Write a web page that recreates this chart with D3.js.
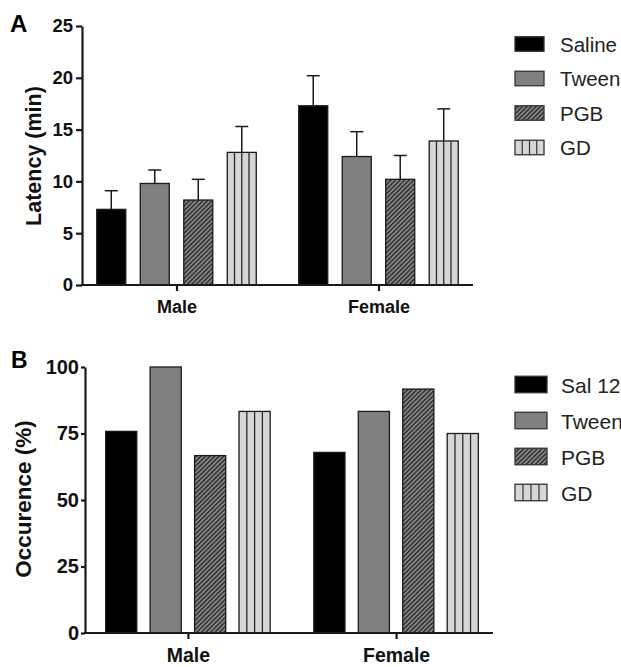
<!DOCTYPE html>
<html><head><meta charset="utf-8">
<script src="https://cdn.jsdelivr.net/npm/d3@7"></script>
<style>
body{margin:0;background:#fff}
svg{display:block;font-family:"Liberation Sans",Arial,Helvetica,sans-serif}
</style>
</head><body>
<svg id="chart" width="621" height="667"></svg>
<script>
// Groups and treatments
const groups = ["Male", "Female"];
const seriesA = ["Saline", "Tween", "PGB", "GD"];
const seriesB = ["Sal 12", "Tween", "PGB", "GD"];

// Panel A: latency (min), mean and upper error (SEM)
const latencyMale = [7.3, 9.8, 8.2, 12.8];
const latencyFemale = [17.3, 12.4, 10.2, 13.9];
const latencyErrMale = [1.8, 1.3, 2.0, 2.5];
const latencyErrFemale = [2.9, 2.4, 2.3, 3.1];

// Panel B: occurrence (%)
const occurrenceMale = [75.8, 100, 66.7, 83.3];
const occurrenceFemale = [67.9, 83.3, 91.7, 75];

const ticksA = [0, 5, 10, 15, 20, 25];
const ticksB = [0, 25, 50, 75, 100];

const svg = d3.select("#chart");
const INK = "#1a1a1a";

// Fill patterns
const defs = svg.append("defs");
const hatch = defs.append("pattern")
  .attr("id", "hatch").attr("patternUnits", "userSpaceOnUse")
  .attr("width", 3.2).attr("height", 3.2)
  .attr("patternTransform", "rotate(45)");
hatch.append("rect").attr("width", 3.2).attr("height", 3.2).attr("fill", "#858585");
hatch.append("line").attr("x1", 0.6).attr("y1", 0).attr("x2", 0.6).attr("y2", 3.2)
  .attr("stroke", "#222").attr("stroke-width", 1.3);

const fills = ["#000000", "#808080", "url(#hatch)", "#d6d6d6"];

function drawPanel(cfg) {
  const g = svg.append("g");
  const y = d3.scaleLinear().domain(cfg.domain).range([cfg.y0, cfg.y1]);
  const x = d3.scalePoint().domain(groups).range(cfg.xRange).padding(cfg.pointPad);
  const inner = d3.scaleBand().domain(cfg.series)
    .range([-cfg.clusterW / 2, cfg.clusterW / 2]).paddingInner(cfg.innerPad).paddingOuter(0);
  const bw = inner.bandwidth();

  const rows = [];
  groups.forEach((grp, gi) => {
    cfg.values[gi].forEach((v, si) => {
      rows.push({grp, si, s: cfg.series[si], v, e: cfg.errors ? cfg.errors[gi][si] : null});
    });
  });

  // Bars
  const bars = g.selectAll("g.bar").data(rows).join("g").attr("class", "bar");
  bars.append("rect")
    .attr("x", d => x(d.grp) + inner(d.s))
    .attr("y", d => y(d.v))
    .attr("width", bw)
    .attr("height", d => y(0) - y(d.v))
    .attr("fill", d => fills[d.si])
    .attr("stroke", INK).attr("stroke-width", 1.3);
  // Vertical stripes for GD
  bars.filter(d => d.si === 3).each(function(d) {
    const x0 = x(d.grp) + inner(d.s);
    d3.select(this).selectAll("line.stripe").data([1, 2, 3]).join("line")
      .attr("class", "stripe")
      .attr("x1", k => x0 + bw * k / 4).attr("x2", k => x0 + bw * k / 4)
      .attr("y1", y(d.v)).attr("y2", y(0))
      .attr("stroke", "#2a2a2a").attr("stroke-width", 1.3);
  });

  // Error bars (upper only)
  if (cfg.errors) {
    const eb = g.selectAll("g.err").data(rows).join("g").attr("class", "err")
      .attr("stroke", INK).attr("stroke-width", 1.5);
    eb.append("line")
      .attr("x1", d => x(d.grp) + inner(d.s) + bw / 2)
      .attr("x2", d => x(d.grp) + inner(d.s) + bw / 2)
      .attr("y1", d => y(d.v)).attr("y2", d => y(d.v + d.e));
    eb.append("line")
      .attr("x1", d => x(d.grp) + inner(d.s) + bw / 2 - 6.5)
      .attr("x2", d => x(d.grp) + inner(d.s) + bw / 2 + 6.5)
      .attr("y1", d => y(d.v + d.e)).attr("y2", d => y(d.v + d.e));
  }

  // Y axis
  const ya = g.append("g").attr("transform", `translate(${cfg.axisX},0)`)
    .call(d3.axisLeft(y).tickValues(cfg.ticks).tickSize(cfg.tickLen).tickSizeOuter(0).tickPadding(cfg.tickPad));
  ya.select(".domain").attr("stroke", INK).attr("stroke-width", 2.2);
  ya.selectAll(".tick line").attr("stroke", INK).attr("stroke-width", 2.2);
  ya.selectAll(".tick text").attr("fill", "#111").attr("font-size", cfg.tickFont)
    .attr("font-weight", "bold").attr("font-family", "Liberation Sans, Arial, sans-serif");

  // X axis baseline and group ticks
  g.append("line").attr("x1", cfg.axisX - 1).attr("x2", cfg.axisRight)
    .attr("y1", y(0)).attr("y2", y(0)).attr("stroke", INK).attr("stroke-width", 2.2);
  const xa = g.append("g").attr("transform", `translate(0,${y(0)})`)
    .call(d3.axisBottom(x).tickSize(6).tickPadding(9));
  xa.select(".domain").remove();
  xa.selectAll(".tick line").attr("stroke", INK).attr("stroke-width", 2.2);
  xa.selectAll(".tick text").attr("fill", "#111").attr("font-size", cfg.xFont)
    .attr("font-weight", "bold").attr("font-family", "Liberation Sans, Arial, sans-serif");

  // Axis title
  g.append("text")
    .attr("transform", `translate(${cfg.titleX},${cfg.titleY}) rotate(-90)`)
    .attr("text-anchor", "middle").attr("font-weight", "bold")
    .attr("font-size", cfg.titleFont).attr("fill", "#111").text(cfg.title);

  // Panel letter
  g.append("text").attr("x", cfg.letterX).attr("y", cfg.letterY)
    .attr("font-weight", "bold").attr("font-size", cfg.letterFont).attr("fill", "#000")
    .text(cfg.letter);

  // Legend
  const lg = g.append("g");
  const items = lg.selectAll("g").data(cfg.series).join("g")
    .attr("transform", (d, i) => `translate(${cfg.legX},${cfg.legY + i * cfg.legStep})`);
  items.append("rect")
    .attr("x", 0).attr("y", -cfg.swH / 2).attr("width", cfg.swW).attr("height", cfg.swH)
    .attr("fill", (d, i) => fills[i]).attr("stroke", "#333").attr("stroke-width", 1.3);
  items.filter((d, i) => i === 3).selectAll("line").data([1, 2, 3]).join("line")
    .attr("x1", k => cfg.swW * k / 4).attr("x2", k => cfg.swW * k / 4)
    .attr("y1", -cfg.swH / 2).attr("y2", cfg.swH / 2)
    .attr("stroke", "#333").attr("stroke-width", 1.2);
  items.append("text")
    .attr("x", cfg.legTextDx).attr("y", cfg.legBase)
    .attr("font-size", cfg.legFont).attr("fill", "#222")
    .text(d => d);
}

drawPanel({
  letter: "A", letterX: 10, letterY: 32, letterFont: 24,
  series: seriesA,
  values: [latencyMale, latencyFemale],
  errors: [latencyErrMale, latencyErrFemale],
  domain: [0, 25], y0: 285, y1: 26, ticks: ticksA,
  axisX: 82, axisRight: 473, xRange: [82, 473], pointPad: 0.468,
  clusterW: 159.5, innerPad: 0.333,
  tickLen: 6, tickPad: 3, tickFont: 18.5, xFont: 18,
  title: "Latency (min)", titleX: 41, titleY: 156, titleFont: 21.5,
  legX: 515, legY: 44, legStep: 34.5, swW: 29, swH: 14.5,
  legTextDx: 45, legBase: 7.5, legFont: 20.5
});

drawPanel({
  letter: "B", letterX: 11, letterY: 368, letterFont: 23,
  series: seriesB,
  values: [occurrenceMale, occurrenceFemale],
  errors: null,
  domain: [0, 100], y0: 633, y1: 367, ticks: ticksB,
  axisX: 85, axisRight: 493, xRange: [88, 496], pointPad: 0.48,
  clusterW: 164.5, innerPad: 0.3,
  tickLen: 4, tickPad: 2, tickFont: 20, xFont: 19.5,
  title: "Occurence (%)", titleX: 31, titleY: 499, titleFont: 22.5,
  legX: 515, legY: 384.5, legStep: 36, swW: 32, swH: 16.5,
  legTextDx: 46, legBase: 8, legFont: 21
});
</script>
</body></html>
